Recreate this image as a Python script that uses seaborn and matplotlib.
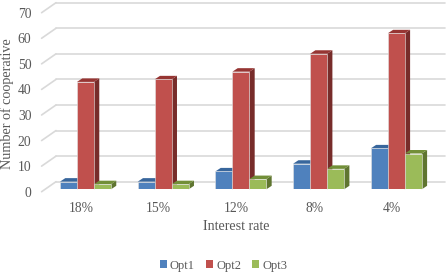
"""
Clustered bars with a fake 3D look, like a spreadsheet chart
"""
import pandas as pd
import matplotlib
matplotlib.use('Agg')
import matplotlib.pyplot as plt
from matplotlib.patches import Polygon
from matplotlib.transforms import Affine2D
import seaborn as sns

rates = ['18%', '15%', '12%', '8%', '4%']
opt1 = [3, 3, 7, 10, 16]
opt2 = [42, 43, 46, 53, 61]
opt3 = [2, 2, 4, 8, 14]
y_ticks = [0, 10, 20, 30, 40, 50, 60, 70]

front_colors = ['#4F81BD', '#C0504D', '#9BBB59']
top_colors = ['#38669C', '#963533', '#728F38']
side_colors = ['#2C4D75', '#772C2A', '#5F7530']
text_color = '#595959'

sns.set_style('white')
plt.rcParams['font.family'] = ['Liberation Serif']

df = pd.DataFrame({
    'rate': rates * 3,
    'value': opt1 + opt2 + opt3,
    'option': ['Opt1'] * 5 + ['Opt2'] * 5 + ['Opt3'] * 5,
})

W, H = 447, 273
fig = plt.figure(figsize=(W / 100, H / 100), dpi=100)
ax = fig.add_axes([45 / W, 83.7 / H, 389.3 / W, 179 / H])
sns.barplot(data=df, x='rate', y='value', hue='option', palette=front_colors, saturation=1,
            width=0.656, gap=0, edgecolor='#E4E4E4', linewidth=0.4, zorder=6, ax=ax)
ax.set_xlim(-0.521, 4.489)
ax.set_ylim(0, 70)
sns.despine(ax=ax, left=True, bottom=True)

# pixel offsets of the floor and wall relative to the plane of the bar fronts
to_front = ax.transData + Affine2D().translate(-3.4, -2.4)
to_back = ax.transData + Affine2D().translate(11, 7.6)
x0, x1 = ax.get_xlim()
for t in y_ticks:
    ax.plot([x0, x1], [t, t], color='#D9D9D9', lw=1.2, transform=to_back, clip_on=False, zorder=1)
    a = to_front.transform((x0, t))
    b = to_back.transform((x0, t))
    ax.plot([a[0], b[0]], [a[1], b[1]], color='#D9D9D9', lw=1.2, transform=None, clip_on=False, zorder=1)

# side and top faces, built from the bars seaborn drew
dx, dy = 5.3, 3.5
for i, container in enumerate(ax.containers):
    for bar in container:
        l, r = bar.get_x(), bar.get_x() + bar.get_width()
        h = bar.get_height()
        (xl, yb), (xr, yt) = ax.transData.transform([(l, 0), (r, h)])
        side = [(xr, yb), (xr + dx, yb + dy), (xr + dx, yt + dy), (xr, yt)]
        top = [(xl, yt), (xr, yt), (xr + dx, yt + dy), (xl + dx, yt + dy)]
        ax.add_patch(Polygon(side, closed=True, fc=side_colors[i], ec='none', transform=None,
                             clip_on=False, zorder=2 + i))
        ax.add_patch(Polygon(top, closed=True, fc=top_colors[i], ec='none', transform=None,
                             clip_on=False, zorder=2 + i))

ax.set_yticks(y_ticks)
ax.tick_params(axis='both', length=0, labelsize=9.8, labelcolor=text_color)
ax.tick_params(axis='y', pad=9.8)
ax.tick_params(axis='x', pad=9.5)
for lab in ax.get_yticklabels():
    lab.set_transform(lab.get_transform() + Affine2D().translate(0, -2.4))
for lab in ax.get_xticklabels():
    lab.set_transform(lab.get_transform() + Affine2D().translate(-4.5, 0))

ax.set_xlabel('Interest rate', fontsize=10.1, color=text_color, va='center')
ax.set_ylabel('Number of cooperative', fontsize=10.2, color=text_color, va='center')
ax.xaxis.set_label_coords((236 - 45) / 389.3, (46 - 83.7) / 179)
ax.yaxis.set_label_coords((7 - 45) / 389.3, (169.5 - 83.7) / 179)

handles, labels = ax.get_legend_handles_labels()
leg = ax.legend(handles, labels, loc='center', ncol=3, frameon=False, fontsize=9,
                bbox_to_anchor=((223.5 - 45) / 389.3, (7.5 - 83.7) / 179),
                handlelength=0.56, handleheight=0.56, handletextpad=0.25, columnspacing=0.88,
                labelcolor=text_color, borderpad=0)
for h in leg.get_patches():
    h.set_edgecolor('none')

fig.savefig('out.png', dpi=100)
